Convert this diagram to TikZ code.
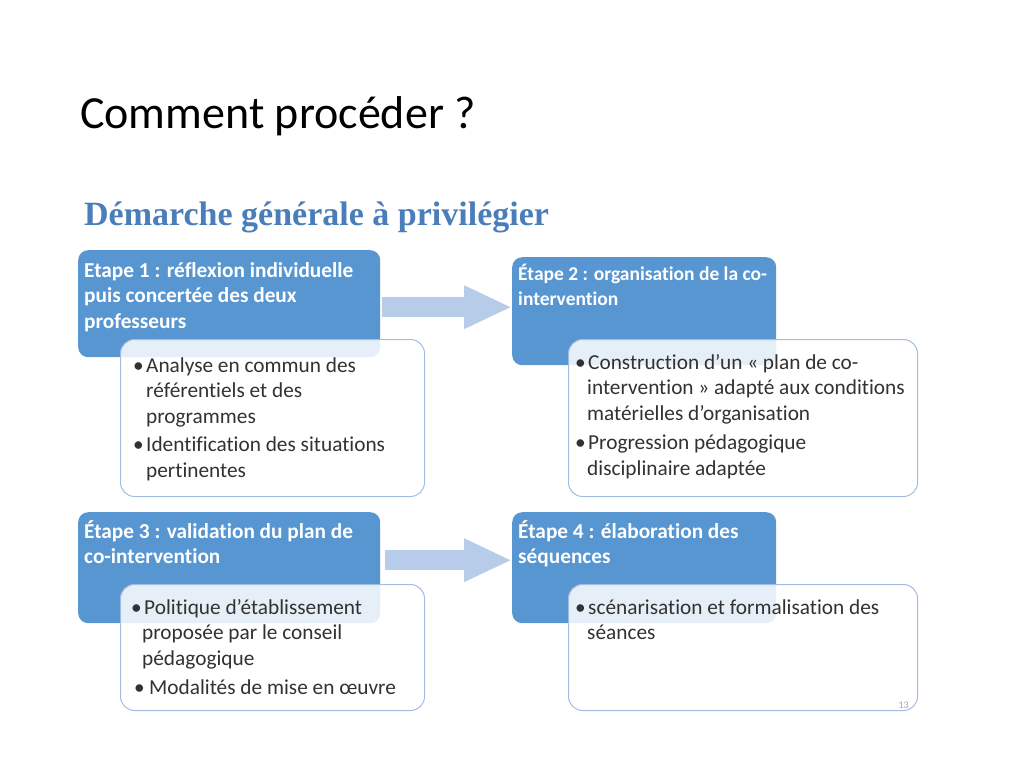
\documentclass[tikz,border=0pt]{standalone}
\usepackage{fontspec}
\setmainfont{Carlito}[Ligatures=NoCommon]
\newfontfamily\headfont{Liberation Serif}
\usetikzlibrary{arrows.meta,calc}
\definecolor{stepblue}{RGB}{88,150,210}
\definecolor{headblue}{RGB}{74,126,187}
\definecolor{arrowblue}{RGB}{183,204,232}
\definecolor{boxline}{RGB}{160,190,225}
\definecolor{bodytext}{RGB}{50,50,50}
\newcommand\bul{\makebox[13pt][l]{\textbullet}}
\newcommand\ind{\hspace*{13pt}}
\begin{document}
\begin{tikzpicture}[x=1pt,y=-1pt,
 stepbox/.style={fill=stepblue, rounded corners=10pt, inner sep=0pt, anchor=north west},
 steptext/.style={text=white, font=\fontsize{21.3}{25.5}\selectfont\bfseries, align=left, anchor=north west, inner sep=0pt},
 detailbox/.style={draw=boxline, line width=1pt, fill=white, fill opacity=0.85, rounded corners=14pt, inner sep=0pt, anchor=north west},
 detailtext/.style={text=bodytext, font=\fontsize{21.3}{25.5}\selectfont, align=left, anchor=north west, inner sep=0pt},
 blockarrow/.style={draw=arrowblue, line width=20pt, -{Triangle[length=48pt,width=40pt]}}]
\useasboundingbox[fill=white] (0,0) rectangle (1024,768);

\node[anchor=base west, inner sep=0pt, font=\fontsize{46}{50}\selectfont] (title) at (80,128) {Comment procéder ?};
\node[anchor=base west, inner sep=0pt, text=headblue, font=\headfont\bfseries\fontsize{34}{38}\selectfont] (heading) at (84,225) {Démarche générale à privilégier};

% blue step boxes
\node[stepbox, minimum width=302pt, minimum height=107pt] (b1) at (78,250) {};
\node[stepbox, minimum width=264pt, minimum height=108pt] (b2) at (512,257) {};
\node[stepbox, minimum width=302pt, minimum height=111pt] (b3) at (78,512) {};
\node[stepbox, minimum width=264pt, minimum height=111pt] (b4) at (512,512) {};

% arrows
\coordinate (a1s) at ($(b1.east)+(2,3.5)$);
\draw[blockarrow] (a1s) -- (a1s -| b2.west);
\coordinate (a2s) at ($(b3.east)+(5,-7.5)$);
\draw[blockarrow] (a2s) -- (a2s -| b4.west);

% step texts
\node[steptext] (t1) at (84,259) {\strut Etape 1 : réflexion individuelle\\puis concertée des deux\\professeurs};
\node[steptext, font=\fontsize{19.5}{25.5}\selectfont\bfseries] (t2) at (518,262) {\strut Étape 2 : organisation de la co-\\intervention};
\node[steptext] (t3) at (84,520) {\strut Étape 3 : validation du plan de\\co-intervention};
\node[steptext] (t4) at (518,520) {\strut Étape 4 : élaboration des\\séquences};

% detail boxes
\node[detailbox, minimum width=304pt, minimum height=157pt] (d1) at (120,339) {};
\node[detailbox, minimum width=349pt, minimum height=157pt] (d2) at (568,339) {};
\node[detailbox, minimum width=304pt, minimum height=126pt] (d3) at (120,584) {};
\node[detailbox, minimum width=349pt, minimum height=126pt] (d4) at (568,584) {};

\node[detailtext] (e1) at (133,354) {\strut\bul Analyse en commun des\\\ind référentiels et des\\\ind programmes\\[3pt]\bul Identification des situations\\\ind pertinentes};
\node[detailtext] (e2) at (575,351) {\strut\bul Construction d’un « plan de co-\\\hspace*{12pt}intervention » adapté aux conditions\\\hspace*{12pt}matérielles d’organisation\\[4pt]\bul Progression pédagogique\\\hspace*{12pt}disciplinaire adaptée};
\node[detailtext] (e3) at (131,596) {\strut\bul Politique d’établissement\\\hspace*{11pt}proposée par le conseil\\\hspace*{11pt}pédagogique\\[4pt]\makebox[18pt][l]{\hspace*{3pt}\textbullet}Modalités de mise en œuvre};
\node[detailtext] (e4) at (575,596) {\strut\bul scénarisation et formalisation des\\\hspace*{12pt}séances};

\node[anchor=base east, inner sep=0pt, text=black!35, font=\fontsize{10}{12}\selectfont] (num) at (909,708) {13};
\end{tikzpicture}
\end{document}
